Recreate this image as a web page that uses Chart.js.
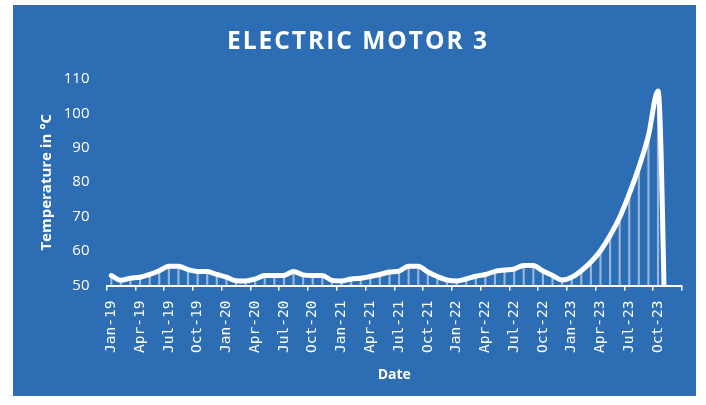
<!DOCTYPE html>
<html>
<head>
<meta charset="utf-8">
<script src="https://cdn.jsdelivr.net/npm/chart.js@4"></script>
<style>
  body { margin: 0; background: #fff; }
  #box {
    position: absolute;
    left: 13px;
    top: 5px;
    width: 683px;
    height: 391px;
    background: #2D6DB4;
  }
</style>
</head>
<body>
<div id="box"><canvas id="motorChart" width="683" height="391"></canvas></div>
<script>
// Data
const monthNames = ["Jan", "Feb", "Mar", "Apr", "May", "Jun", "Jul", "Aug", "Sep", "Oct", "Nov", "Dec"];
const years = ["19", "20", "21", "22", "23"];

const temps2019 = [52.9, 51.5, 52.1, 52.4, 53.2, 54.3, 55.6, 55.6, 54.6, 54.1, 54.1, 53.2];
const temps2020 = [52.4, 51.4, 51.3, 51.9, 52.9, 52.9, 52.9, 54.1, 53.1, 52.9, 52.9, 51.5];
const temps2021 = [51.3, 51.9, 52.1, 52.6, 53.2, 53.9, 54.2, 55.6, 55.6, 53.9, 52.6, 51.6];
const temps2022 = [51.3, 51.9, 52.7, 53.2, 54.1, 54.5, 54.8, 55.8, 55.8, 54.2, 52.9, 51.6];
const temps2023 = [52.4, 54.3, 56.8, 60.1, 64.5, 69.8, 76.6, 84.3, 93.5, 106.5, 0, null];

const yTicks = [50, 60, 70, 80, 90, 100, 110];

// Build the month labels, e.g. "Jan-19"
const labels = [];
years.forEach((yr) => {
  monthNames.forEach((m) => labels.push(m + "-" + yr));
});
const temps = [].concat(temps2019, temps2020, temps2021, temps2022, temps2023);

const white = "#FFFFFF";

// Title gets a little tracking, the rest is drawn after the datasets without it
const spacingPlugin = {
  id: "spacing",
  beforeDraw(chart) {
    chart.ctx.letterSpacing = "2px";
  },
  afterDatasetsDraw(chart) {
    chart.ctx.letterSpacing = "0px";
  },
  afterDraw(chart) {
    chart.ctx.letterSpacing = "0px";
  },
};

const ctx = document.getElementById("motorChart").getContext("2d");
const motorChart = new Chart(ctx, {
  type: "line",
  data: {
    labels: labels,
    datasets: [
      {
        label: "Temperature",
        data: temps,
        borderColor: white,
        borderWidth: 5,
        borderCapStyle: "round",
        borderJoinStyle: "round",
        cubicInterpolationMode: "monotone",
        pointRadius: 0,
        fill: false,
        order: 0,
      },
      {
        type: "bar",
        label: "Drop lines",
        data: temps,
        backgroundColor: "rgba(255, 255, 255, 0.5)",
        barThickness: 1.5,
        order: 1,
      },
    ],
  },
  options: {
    responsive: false,
    animation: false,
    layout: {
      padding: { left: 21, right: 14, top: 0, bottom: 12.5 },
    },
    plugins: {
      legend: { display: false },
      tooltip: { enabled: false },
      title: {
        display: true,
        text: "ELECTRIC MOTOR 3",
        color: white,
        font: { family: "'Open Sans'", size: 24.5, weight: "bold" },
        padding: { top: 22, bottom: 22.5 },
      },
    },
    scales: {
      x: {
        type: "category",
        offset: true,
        grid: {
          offset: true,
          drawOnChartArea: false,
          tickLength: 5,
          lineWidth: 1.5,
          z: 1,
          color: (c) => (c.type === "scale" || c.index % 3 === 0 ? white : "rgba(0,0,0,0)"),
        },
        border: { display: true, color: white, width: 2, z: 1 },
        ticks: {
          autoSkip: false,
          maxRotation: 90,
          minRotation: 90,
          padding: 10,
          z: 1,
          color: white,
          font: { family: "'DejaVu Sans Mono'", size: 14.5 },
          callback: function (value, index) {
            return index % 3 === 0 ? labels[index] : "";
          },
        },
        title: {
          display: true,
          text: "Date",
          color: white,
          font: { family: "'Open Sans'", size: 14, weight: "bold" },
          padding: { top: 0, bottom: 0 },
        },
        afterFit(scale) {
          scale.paddingLeft = 0;
          scale.paddingRight = 0;
          scale.height = 98;
        },
      },
      y: {
        min: yTicks[0],
        max: yTicks[yTicks.length - 1],
        grid: { display: false, z: 1 },
        border: { display: false },
        ticks: {
          stepSize: 10,
          padding: 9,
          z: 1,
          color: white,
          font: { family: "'Open Sans'", size: 15 },
        },
        title: {
          display: true,
          text: "Temperature in °C",
          color: white,
          font: { family: "'Open Sans'", size: 15, weight: "bold" },
          padding: { top: 4, bottom: 0 },
        },
        afterFit(scale) {
          scale.width = 72.5;
        },
      },
    },
  },
  plugins: [spacingPlugin],
});
</script>
</body>
</html>
